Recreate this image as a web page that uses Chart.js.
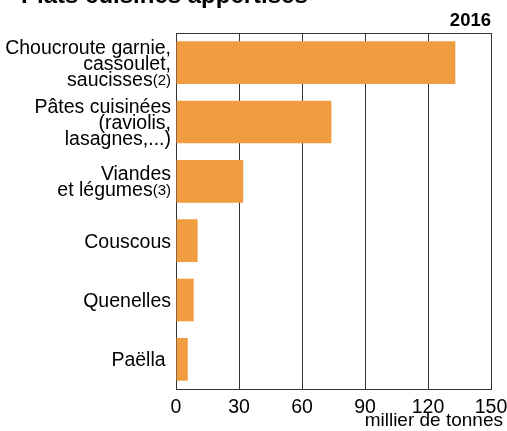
<!DOCTYPE html>
<html>
<head>
<meta charset="utf-8">
<script src="https://cdn.jsdelivr.net/npm/chart.js@4/dist/chart.umd.min.js"></script>
<style>
  html, body { margin: 0; padding: 0; background: #fff; }
  #chart { display: block; }
</style>
</head>
<body>
<canvas id="chart" width="507" height="431"></canvas>
<script>
const labelLines = [
    ['Choucroute garnie,', 'cassoulet,', 'saucisses'],
    ['Pâtes cuisinées', '(raviolis,', 'lasagnes,...)'],
    ['Viandes', 'et légumes'],
    ['Couscous'],
    ['Quenelles'],
    ['Paëlla ']
];
const notes = ['(2)', '', '(3)', '', '', ''];
const values = [133, 74, 32, 10.3, 8.4, 5.6];
const xTicks = [0, 30, 60, 90, 120, 150];

const FONT = 'Liberation Sans, Arial, sans-serif';
const barColor = '#f09c40';
const lineColor = '#333';

// labels, notes, title etc. drawn by hand so the superscript notes work
const textPlugin = {
    id: 'texts',
    afterDraw(chart) {
        const ctx = chart.ctx;
        const area = chart.chartArea;
        const yScale = chart.scales.y;
        ctx.save();

        // top border of the plot
        ctx.strokeStyle = lineColor;
        ctx.lineWidth = 1;
        ctx.beginPath();
        ctx.moveTo(area.left, area.top + 0.5);
        ctx.lineTo(area.right, area.top + 0.5);
        ctx.stroke();

        ctx.fillStyle = '#000';
        ctx.textBaseline = 'alphabetic';
        const rightX = area.left - 5;
        labelLines.forEach(function(lines, i) {
            const yc = yScale.getPixelForValue(i);
            const n = lines.length;
            lines.forEach(function(line, k) {
                const y = yc + (k - (n - 1) / 2) * 16 + 7;
                let x = rightX;
                if (k === n - 1 && notes[i]) {
                    ctx.font = '15px ' + FONT;
                    const w = ctx.measureText(notes[i]).width;
                    ctx.textAlign = 'left';
                    ctx.fillText(notes[i], rightX - w, y - 1);
                    x = rightX - w;
                }
                ctx.font = '19.5px ' + FONT;
                ctx.textAlign = 'right';
                ctx.fillText(line, x, y);
            });
        });

        ctx.font = 'bold 24px ' + FONT;
        ctx.textAlign = 'left';
        ctx.fillText('Plats cuisinés appertisés', 21, 3);

        ctx.font = 'bold 18.5px ' + FONT;
        ctx.textAlign = 'right';
        ctx.fillText('2016', area.right, area.top - 7);

        ctx.font = '19px ' + FONT;
        ctx.fillText('millier de tonnes', 503, 426);
        ctx.restore();
    }
};

new Chart(document.getElementById('chart'), {
    type: 'bar',
    data: {
        labels: labelLines.map(l => l.join(' ')),
        datasets: [{
            data: values,
            backgroundColor: barColor,
            barPercentage: 0.72,
            categoryPercentage: 1
        }]
    },
    options: {
        indexAxis: 'y',
        responsive: false,
        animation: false,
        layout: { padding: { top: 33, right: 16, left: 0, bottom: 0 } },
        plugins: {
            legend: { display: false },
            tooltip: { enabled: false }
        },
        scales: {
            x: {
                min: 0,
                max: 150,
                afterBuildTicks: function(scale) {
                    scale.ticks = xTicks.map(v => ({ value: v }));
                },
                afterFit: function(scale) {
                    scale.height = 42;
                    scale.paddingLeft = 0;
                    scale.paddingRight = 0;
                },
                ticks: {
                    color: '#000',
                    font: { family: FONT, size: 19.5 },
                    padding: 7,
                    maxRotation: 0
                },
                grid: { color: lineColor, lineWidth: 1, drawTicks: false },
                border: { display: true, color: lineColor, width: 1 }
            },
            y: {
                afterFit: function(scale) { scale.width = 176; },
                ticks: { display: false },
                grid: { display: false, drawTicks: false },
                border: { display: true, color: lineColor, width: 1 }
            }
        }
    },
    plugins: [textPlugin]
});
</script>
</body>
</html>
